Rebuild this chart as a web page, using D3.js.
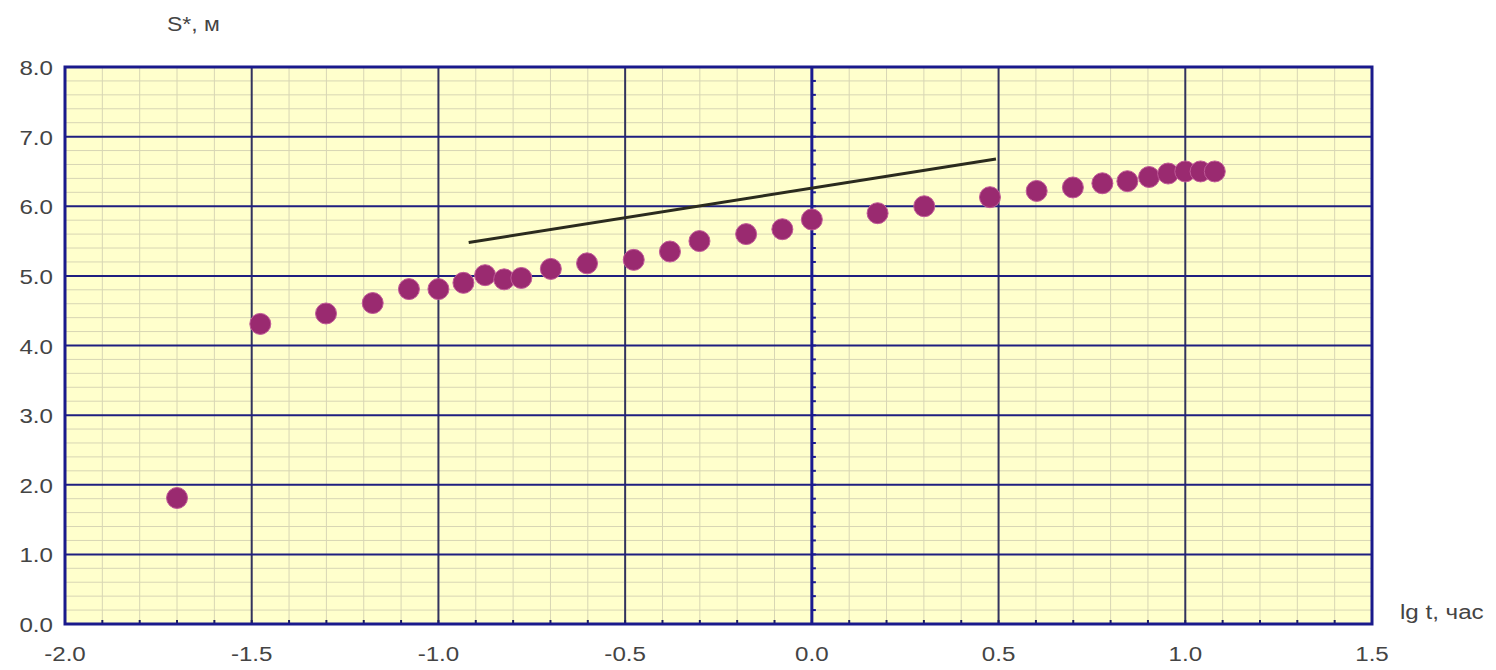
<!DOCTYPE html>
<html><head><meta charset="utf-8">
<script src="https://cdn.jsdelivr.net/npm/d3@7"></script>
<style>body{margin:0;background:#fff;} svg{display:block;} text{font-family:"Liberation Sans",Arial,sans-serif;fill:#444;}</style>
</head><body><svg id="c" width="1496" height="670"></svg>
<script>
const lgT = [-1.70,-1.477,-1.301,-1.176,-1.079,-1.0,-0.933,-0.875,-0.824,-0.778,-0.699,-0.602,-0.477,-0.380,-0.301,-0.176,-0.079,0.0,0.176,0.301,0.477,0.602,0.699,0.778,0.845,0.903,0.954,1.0,1.041,1.079];
const sValues = [1.81,4.31,4.46,4.61,4.81,4.81,4.90,5.01,4.95,4.97,5.10,5.18,5.23,5.35,5.50,5.60,5.67,5.81,5.90,6.00,6.13,6.22,6.27,6.33,6.36,6.42,6.47,6.50,6.50,6.50];
const fitLineX = [-0.919, 0.493];
const fitLineY = [5.48, 6.68];
const xTicks = [-2.0,-1.5,-1.0,-0.5,0.0,0.5,1.0,1.5];
const yTicks = [0,1,2,3,4,5,6,7,8];
const xTitle = "lg t, час";
const yTitle = "S*, м";

const svg = d3.select("#c");
const L=65,R=1372,T=67,B=624;
const x = d3.scaleLinear().domain([-2,1.5]).range([L,R]);
const y = d3.scaleLinear().domain([0,8]).range([B,T]);
const SX = 1.15, FS = 21;

svg.append("rect").attr("x",L).attr("y",T).attr("width",R-L).attr("height",B-T).attr("fill","#ffffcc");

const minorX = d3.range(-20,16).map(d=>d/10).filter(v=>Math.abs(v*2-Math.round(v*2))>1e-6);
const minorY = d3.range(0,41).map(d=>d/5).filter(v=>Math.abs(v-Math.round(v))>1e-6);
const g = svg.append("g");
g.selectAll(".mx").data(minorX).join("line").attr("x1",d=>x(d)).attr("x2",d=>x(d)).attr("y1",T).attr("y2",B).attr("stroke","#d8d6b4").attr("stroke-width",1);
g.selectAll(".my").data(minorY).join("line").attr("y1",d=>y(d)).attr("y2",d=>y(d)).attr("x1",L).attr("x2",R).attr("stroke","#d8d6b4").attr("stroke-width",1);
g.selectAll(".Mx").data(xTicks.filter(v=>v>-2&&v<1.5&&v!==0)).join("line").attr("x1",d=>x(d)).attr("x2",d=>x(d)).attr("y1",T).attr("y2",B).attr("stroke","#33335e").attr("stroke-width",2);
g.selectAll(".My").data(yTicks.filter(v=>v>0&&v<8)).join("line").attr("y1",d=>y(d)).attr("y2",d=>y(d)).attr("x1",L).attr("x2",R).attr("stroke","#1f1f80").attr("stroke-width",2);

g.selectAll(".bt").data(d3.range(-19,15).map(d=>d/10)).join("line").attr("x1",d=>x(d)).attr("x2",d=>x(d)).attr("y1",B).attr("y2",B-4).attr("stroke","#1f1f60").attr("stroke-width",2);
g.append("line").attr("x1",x(0)).attr("x2",x(0)).attr("y1",T).attr("y2",B).attr("stroke","#1a1a90").attr("stroke-width",3);
g.selectAll(".zt").data(d3.range(1,40).map(d=>d/5)).join("line").attr("x1",x(0)).attr("x2",x(0)+4).attr("y1",d=>y(d)).attr("y2",d=>y(d)).attr("stroke","#1a1a90").attr("stroke-width",2);

svg.append("rect").attr("x",L).attr("y",T).attr("width",R-L).attr("height",B-T).attr("fill","none").attr("stroke","#1a1a8c").attr("stroke-width",3);

svg.append("line").attr("x1",x(fitLineX[0])).attr("y1",y(fitLineY[0])).attr("x2",x(fitLineX[1])).attr("y2",y(fitLineY[1])).attr("stroke","#2b2b1e").attr("stroke-width",3);

svg.selectAll(".pt").data(lgT.map((v,i)=>[v,sValues[i]])).join("circle")
  .attr("cx",d=>x(d[0])).attr("cy",d=>y(d[1])).attr("r",10.5)
  .attr("fill","#9a2a70").attr("stroke","#c05a98").attr("stroke-width",1);

svg.selectAll(".xl").data(xTicks).join("text")
  .attr("transform",d=>`translate(${x(d)},661) scale(${SX},1)`)
  .attr("text-anchor","middle").attr("font-size",FS).text(d=>d.toFixed(1));
svg.selectAll(".yl").data(yTicks).join("text")
  .attr("transform",d=>`translate(53,${y(d)+8}) scale(${SX},1)`)
  .attr("text-anchor","end").attr("font-size",FS).text(d=>d.toFixed(1));

svg.append("text").attr("transform",`translate(167,31) scale(${SX},1)`).attr("font-size",20).text(yTitle);
svg.append("text").attr("transform",`translate(1400,619) scale(${SX},1)`).attr("font-size",FS).text(xTitle);
</script></body></html>
